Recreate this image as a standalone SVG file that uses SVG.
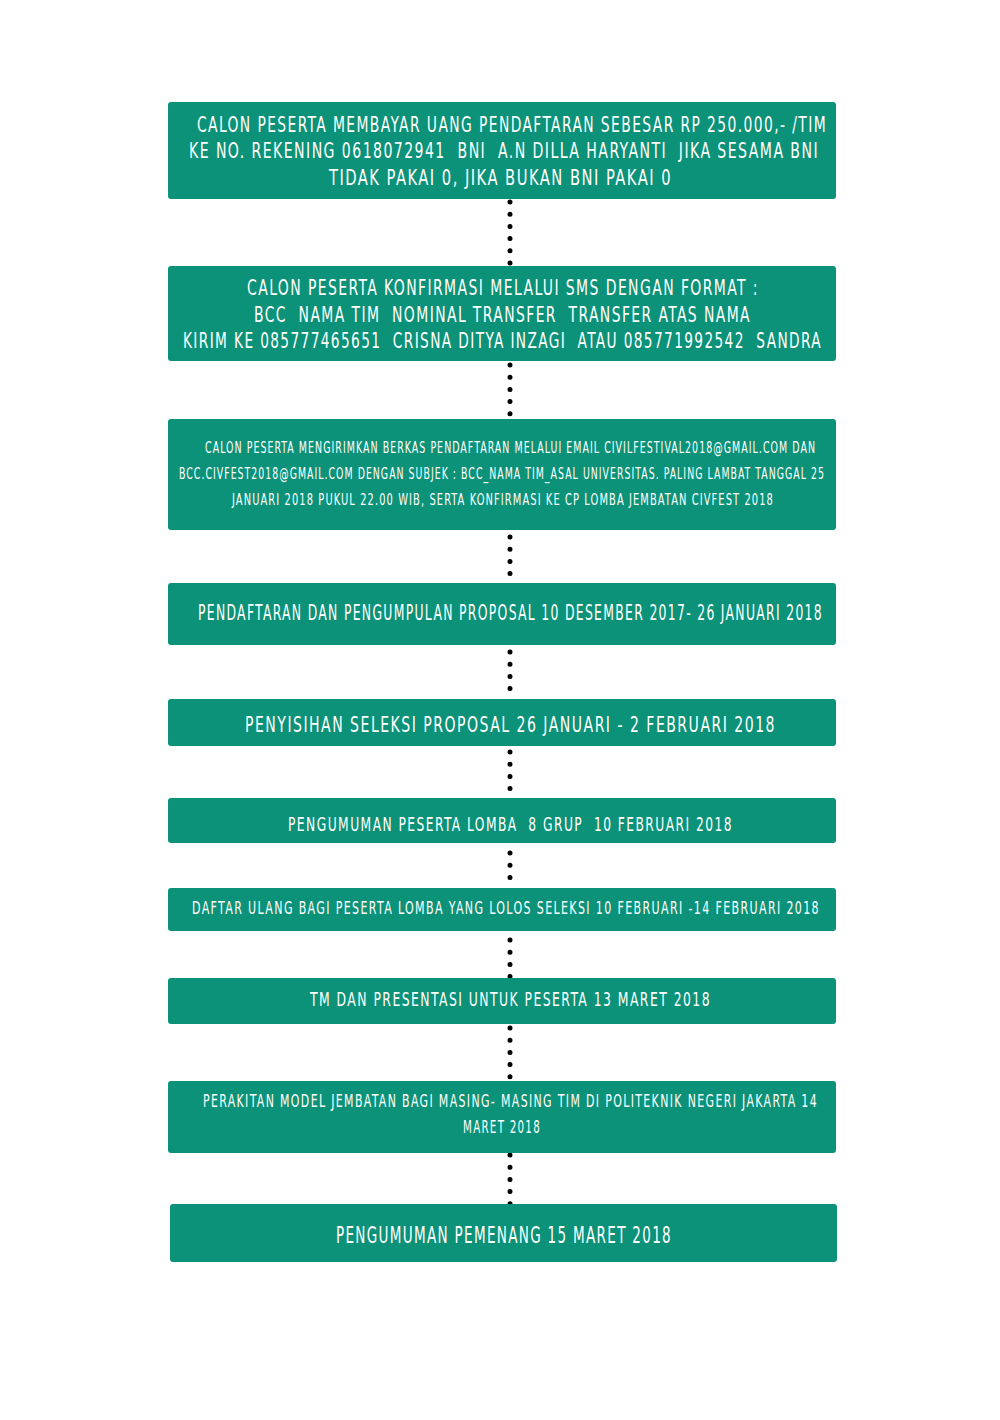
<svg xmlns="http://www.w3.org/2000/svg" width="1000" height="1420" viewBox="0 0 1000 1420">
<style>
.box{fill:#0b9279;}
.t{fill:#ffffff;font-family:"Liberation Sans Narrow","DejaVu Sans Condensed","Liberation Sans",sans-serif;letter-spacing:2px;white-space:pre;}
.s{letter-spacing:1.5px;}
.conn{stroke:#000;stroke-width:5;stroke-linecap:round;stroke-dasharray:0 12.2;fill:none;}
</style>
<rect width="1000" height="1420" fill="#ffffff"/>
<g id="connectors">
<line class="conn" x1="510" y1="202" x2="510" y2="264"/>
<line class="conn" x1="510" y1="365" x2="510" y2="414.5"/>
<line class="conn" x1="510" y1="537" x2="510" y2="577"/>
<line class="conn" x1="510" y1="652" x2="510" y2="690"/>
<line class="conn" x1="510" y1="752" x2="510" y2="790"/>
<line class="conn" x1="510" y1="853" x2="510" y2="879"/>
<line class="conn" x1="510" y1="940" x2="510" y2="977"/>
<line class="conn" x1="510" y1="1028" x2="510" y2="1078"/>
<line class="conn" x1="510" y1="1155" x2="510" y2="1204.5"/>
</g>
<g id="node1">
<rect class="box" x="168" y="102" width="668" height="97" rx="3"/>
<text class="t" font-size="22" x="197" y="132" textLength="630" lengthAdjust="spacingAndGlyphs">CALON PESERTA MEMBAYAR UANG PENDAFTARAN SEBESAR RP 250.000,- /TIM</text>
<text class="t" font-size="22" x="189" y="158" textLength="630" lengthAdjust="spacingAndGlyphs">KE NO. REKENING 0618072941  BNI  A.N DILLA HARYANTI  JIKA SESAMA BNI</text>
<text class="t" font-size="22" x="329" y="185" textLength="343" lengthAdjust="spacingAndGlyphs">TIDAK PAKAI 0, JIKA BUKAN BNI PAKAI 0</text>
</g>
<g id="node2">
<rect class="box" x="168" y="266" width="668" height="95" rx="3"/>
<text class="t" font-size="22" x="247" y="295" textLength="512" lengthAdjust="spacingAndGlyphs">CALON PESERTA KONFIRMASI MELALUI SMS DENGAN FORMAT :</text>
<text class="t" font-size="22" x="254" y="322" textLength="497" lengthAdjust="spacingAndGlyphs">BCC  NAMA TIM  NOMINAL TRANSFER  TRANSFER ATAS NAMA</text>
<text class="t" font-size="22" x="183" y="348" textLength="639" lengthAdjust="spacingAndGlyphs">KIRIM KE 085777465651  CRISNA DITYA INZAGI  ATAU 085771992542  SANDRA</text>
</g>
<g id="node3">
<rect class="box" x="168" y="419" width="668" height="111" rx="3"/>
<text class="t s" font-size="15" x="205" y="452.5" textLength="611" lengthAdjust="spacingAndGlyphs">CALON PESERTA MENGIRIMKAN BERKAS PENDAFTARAN MELALUI EMAIL CIVILFESTIVAL2018@GMAIL.COM DAN</text>
<text class="t s" font-size="15" x="179" y="478.5" textLength="646" lengthAdjust="spacingAndGlyphs">BCC.CIVFEST2018@GMAIL.COM DENGAN SUBJEK : BCC_NAMA TIM_ASAL UNIVERSITAS. PALING LAMBAT TANGGAL 25</text>
<text class="t s" font-size="15" x="232" y="504.5" textLength="542" lengthAdjust="spacingAndGlyphs">JANUARI 2018 PUKUL 22.00 WIB, SERTA KONFIRMASI KE CP LOMBA JEMBATAN CIVFEST 2018</text>
</g>
<g id="node4">
<rect class="box" x="168" y="583" width="668" height="62" rx="3"/>
<text class="t" font-size="21" x="198" y="619.5" textLength="625" lengthAdjust="spacingAndGlyphs">PENDAFTARAN DAN PENGUMPULAN PROPOSAL 10 DESEMBER 2017- 26 JANUARI 2018</text>
</g>
<g id="node5">
<rect class="box" x="168" y="699" width="668" height="47" rx="3"/>
<text class="t" font-size="21" x="245" y="731.5" textLength="531" lengthAdjust="spacingAndGlyphs">PENYISIHAN SELEKSI PROPOSAL 26 JANUARI - 2 FEBRUARI 2018</text>
</g>
<g id="node6">
<rect class="box" x="168" y="798" width="668" height="45" rx="3"/>
<text class="t" font-size="19" x="288" y="831" textLength="445" lengthAdjust="spacingAndGlyphs">PENGUMUMAN PESERTA LOMBA  8 GRUP  10 FEBRUARI 2018</text>
</g>
<g id="node7">
<rect class="box" x="168" y="888" width="668" height="43" rx="3"/>
<text class="t" font-size="18" x="192" y="913.5" textLength="628" lengthAdjust="spacingAndGlyphs">DAFTAR ULANG BAGI PESERTA LOMBA YANG LOLOS SELEKSI 10 FEBRUARI -14 FEBRUARI 2018</text>
</g>
<g id="node8">
<rect class="box" x="168" y="978" width="668" height="46" rx="3"/>
<text class="t" font-size="19" x="310" y="1006" textLength="401" lengthAdjust="spacingAndGlyphs">TM DAN PRESENTASI UNTUK PESERTA 13 MARET 2018</text>
</g>
<g id="node9">
<rect class="box" x="168" y="1081" width="668" height="72" rx="3"/>
<text class="t" font-size="18" x="203" y="1106.5" textLength="615" lengthAdjust="spacingAndGlyphs">PERAKITAN MODEL JEMBATAN BAGI MASING- MASING TIM DI POLITEKNIK NEGERI JAKARTA 14</text>
<text class="t" font-size="18" x="463" y="1132.5" textLength="78" lengthAdjust="spacingAndGlyphs">MARET 2018</text>
</g>
<g id="node10">
<rect class="box" x="170" y="1204" width="667" height="58" rx="3"/>
<text class="t" font-size="23" x="336" y="1243" textLength="336" lengthAdjust="spacingAndGlyphs">PENGUMUMAN PEMENANG 15 MARET 2018</text>
</g>
</svg>
